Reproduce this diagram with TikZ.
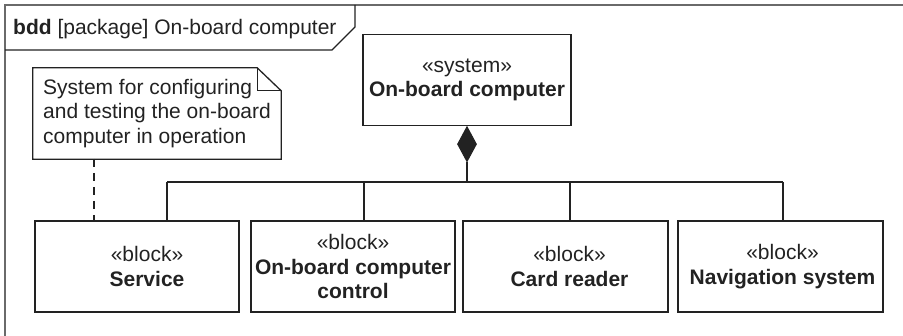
\documentclass[tikz,border=0pt]{standalone}
\usepackage{fontspec}
\setmainfont{Liberation Sans}
\usetikzlibrary{shapes.geometric}
\definecolor{ink}{HTML}{222222}
\definecolor{framegray}{HTML}{6A6A6A}
\begin{document}
\begin{tikzpicture}[x=1pt,y=-1pt,
  txt/.style={font=\fontsize{21}{24.5}\selectfont, text=ink},
  blk/.style={draw=ink, line width=1.3pt, inner sep=0pt, minimum height=91pt},
  blktext/.style={txt, inner sep=0pt, align=center},
  conn/.style={draw=ink, line width=1.2pt},
  framepen/.style={draw=framegray, line width=1.6pt}]
\useasboundingbox (0,0) rectangle (903,336);
% frame
\draw[framepen] (5,336) -- (5,5) -- (903,5);
\draw[draw=ink, line width=1.3pt] (5,50) -- (332,50) -- (355,27) -- (355,5);
\node[txt, anchor=west, inner sep=0pt] (lbl) at (13,29) {\textbf{bdd} [package] On-board computer};
% system block
\node[blk, txt, align=center, minimum width=208pt] (sys) at (467,80) {«system»\\\textbf{On-board computer}};
% parts
\node[blk, minimum width=204pt] (service) at (137,266.5) {};
\node[blktext] (serviceT) at ([xshift=10pt]service.center) {«block»\\\textbf{Service}};
\node[blk, minimum width=204pt] (ctrl) at (353,266.5) {};
\node[blktext] (ctrlT) at (ctrl.center) {«block»\\\textbf{On-board computer}\\\textbf{control}};
\node[blk, minimum width=205pt] (card) at (565.5,266.5) {};
\node[blktext] (cardT) at ([xshift=4pt]card.center) {«block»\\\textbf{Card reader}};
\node[blk, minimum width=205pt] (nav) at (780.5,266.5) {};
\node[blktext] (navT) at ([xshift=2pt]nav.center) {«block»\\\textbf{Navigation system}};
% composition
\node[diamond, draw=ink, fill=ink, line width=1pt, inner sep=0pt, minimum width=19pt,
  minimum height=35pt, anchor=north] (dia) at (sys.south) {};
\coordinate (b0) at (167,182);
\coordinate (b1) at (364,182);
\coordinate (bm) at (467,182);
\coordinate (b2) at (570,182);
\coordinate (b3) at (783,182);
\draw[conn] (dia.south) -- (bm);
\draw[conn] (b0) -- (b3);
\draw[conn] (b0) -- (b0 |- service.north);
\draw[conn] (b1) -- (b1 |- ctrl.north);
\draw[conn] (b2) -- (b2 |- card.north);
\draw[conn] (b3) -- (b3 |- nav.north);
% note
\node[txt, minimum height=91pt, minimum width=248pt, inner sep=0pt, align=left]
  (note) at (157,113.5) {System for configuring\\and testing the on-board\\computer in operation};
\draw[conn, line width=1.3pt] (note.north west) -- ([xshift=-24pt]note.north east)
  -- ([yshift=-23pt]note.north east) -- (note.south east) -- (note.south west) -- cycle;
\draw[conn, line width=1.3pt] ([xshift=-24pt]note.north east) -- ([xshift=-24pt,yshift=-23pt]note.north east)
  -- ([yshift=-23pt]note.north east);
\coordinate (nb) at (94,159);
\draw[conn, dash pattern=on 8pt off 6pt] (nb) -- (nb |- service.north);
\end{tikzpicture}
\end{document}
